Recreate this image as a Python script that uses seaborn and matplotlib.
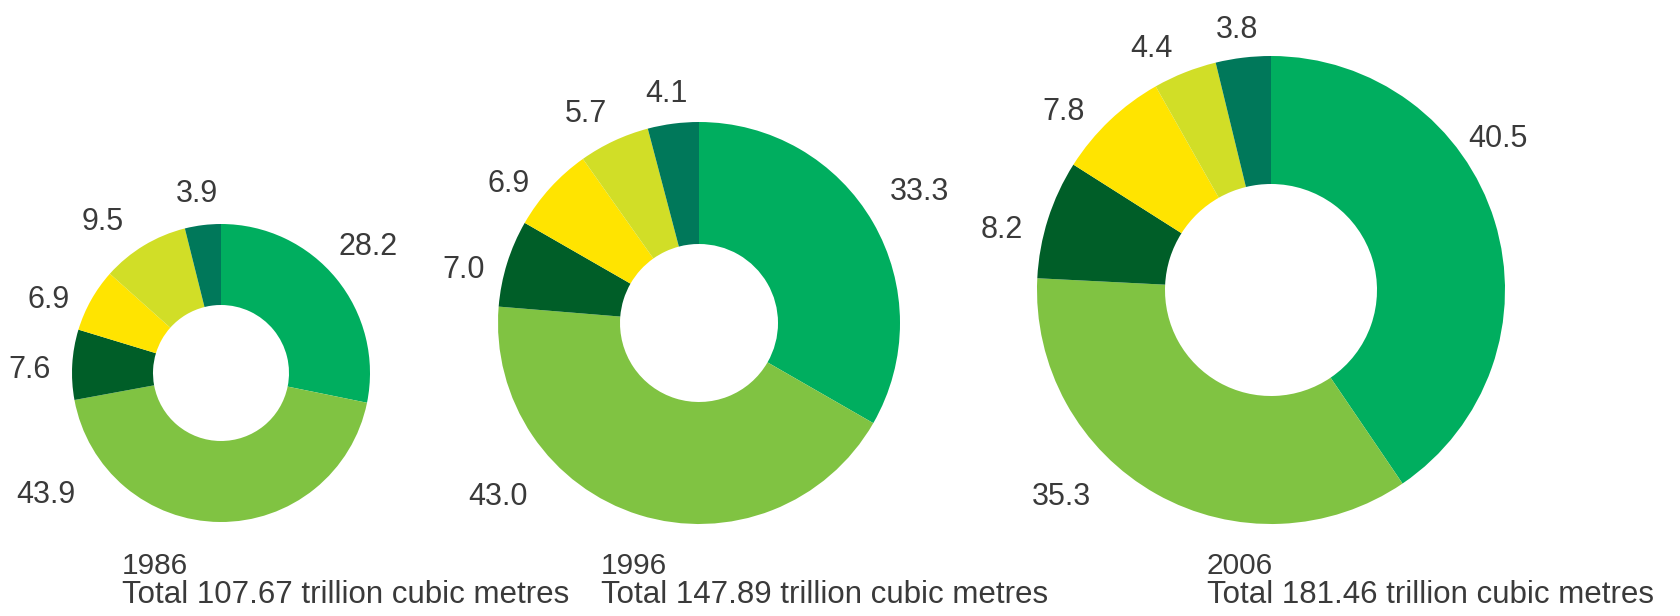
import matplotlib
matplotlib.use("Agg")
import matplotlib.pyplot as plt
import seaborn as sns

# --- data (share in %, clockwise from 12 o'clock) ---
years = ["1986", "1996", "2006"]
totals = ["107.67", "147.89", "181.46"]
shares_1986 = [28.2, 43.9, 7.6, 6.9, 9.5, 3.9]
shares_1996 = [33.3, 43.0, 7.0, 6.9, 5.7, 4.1]
shares_2006 = [40.5, 35.3, 8.2, 7.8, 4.4, 3.8]

# colours of the six slices, same order as the shares
slice_colors = ["#00AE5F", "#80C342", "#005E28", "#FFE400", "#D1DE27", "#00785A"]

# --- layout in pixels (origin top-left) ---
W, H = 1680, 616
centers = [(221, 373), (699, 323), (1271, 290)]
outer_r = [149, 201, 234]
inner_r = [68, 79, 106]
caption_x = [122, 601, 1207]
# value label anchors (x centre, baseline) per slice
label_pos = [
    [(368, 255), (46, 503), (30, 378), (49, 308), (103, 230), (197, 202)],
    [(920, 200), (498, 505), (464, 278), (509, 192), (586, 122), (666, 102)],
    [(1498, 147), (1061, 505), (1002, 238), (1064, 120), (1151, 57), (1237, 38)],
]

TEXT = "#3a3a3a"

sns.set_theme(style="white")
plt.rcParams["font.family"] = ["Liberation Sans", "DejaVu Sans"]

fig = plt.figure(figsize=(W / 100, H / 100), dpi=100)
ax = fig.add_axes([0, 0, 1, 1])

all_shares = [shares_1986, shares_1996, shares_2006]
for i, shares in enumerate(all_shares):
    cx, cy = centers[i]
    ax.pie(shares, colors=slice_colors, startangle=90, counterclock=False,
           center=(cx, H - cy), radius=outer_r[i],
           wedgeprops=dict(width=outer_r[i] - inner_r[i], linewidth=0))
    for val, (lx, ly) in zip(shares, label_pos[i]):
        ax.text(lx, H - ly, f"{val:.1f}", ha="center", va="baseline",
                fontsize=22, color=TEXT)
    ax.text(caption_x[i], H - 574, years[i], ha="left", va="baseline",
            fontsize=21.5, color=TEXT)
    ax.text(caption_x[i], H - 603, f"Total {totals[i]} trillion cubic metres",
            ha="left", va="baseline", fontsize=22.5, color=TEXT)

ax.set_xlim(0, W)
ax.set_ylim(0, H)
ax.set_aspect("equal")
ax.axis("off")

fig.savefig("out.png", dpi=100, facecolor="white")
